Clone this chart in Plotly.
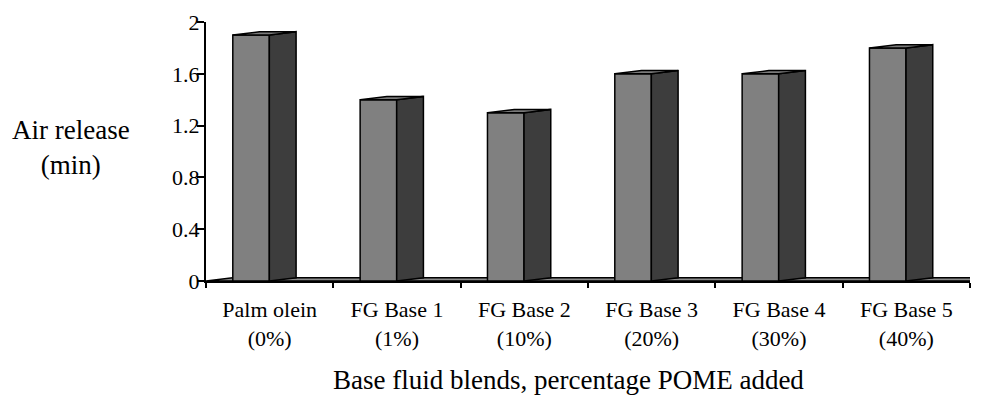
import plotly.graph_objects as go

# ---- data ----
categories = ["Palm olein<br>(0%)", "FG Base 1<br>(1%)", "FG Base 2<br>(10%)",
              "FG Base 3<br>(20%)", "FG Base 4<br>(30%)", "FG Base 5<br>(40%)"]
values = [1.9, 1.4, 1.3, 1.6, 1.6, 1.8]
y_tickvals = [0, 0.4, 0.8, 1.2, 1.6, 2]
y_ticktext = ["0", "0.4", "0.8", "1.2", "1.6", "2"]
x_title = "Base fluid blends, percentage POME added"
y_title = "Air release<br>(min)"

# ---- style / geometry (in axis units) ----
FONT = "Liberation Serif"
FRONT = "#808080"
SIDE = "#3d3d3d"
TOP = "#7a7a7a"
FLOOR = "#8a8a8a"
BAR_OFF = -0.146   # front-face centre relative to category centre
BAR_W = 0.287
DX = 0.21          # oblique depth, x
DY = 0.025         # oblique depth, y
LW = 1.5
Y_RANGE = [0, 2]

n = len(values)
xc = list(range(n))
fronts = [i + BAR_OFF for i in xc]
boundaries = [i - 0.5 for i in range(n + 1)]

fig = go.Figure()

# floor (below traces)
x0f, x1f = boundaries[0], boundaries[-1]
fig.add_shape(type="path", xref="x", yref="y", layer="below",
              path=f"M {x0f},0 L {x1f},0 L {x1f+DX},{DY} L {x0f+DX},{DY} Z",
              fillcolor=FLOOR, line=dict(color="black", width=LW))

# front faces
fig.add_trace(go.Bar(x=fronts, y=values, width=BAR_W,
                     marker=dict(color=FRONT, line=dict(color="black", width=LW)),
                     hoverinfo="skip", showlegend=False))

# side and top faces
for xf, v in zip(fronts, values):
    xl = xf - BAR_W / 2
    xr = xf + BAR_W / 2
    fig.add_trace(go.Scatter(
        x=[xr, xr + DX, xr + DX, xr, xr], y=[0, DY, v + DY, v, 0],
        mode="lines", fill="toself", fillcolor=SIDE,
        line=dict(color="black", width=LW), hoverinfo="skip", showlegend=False))
    fig.add_trace(go.Scatter(
        x=[xl, xr, xr + DX, xl + DX, xl], y=[v, v, v + DY, v + DY, v],
        mode="lines", fill="toself", fillcolor=TOP,
        line=dict(color="black", width=LW), hoverinfo="skip", showlegend=False))

L, R, T, B = 206, 11, 22, 117
W, H = 981, 398
pw = W - L - R
ph = H - T - B

fig.update_layout(
    width=W, height=H,
    margin=dict(l=L, r=R, t=T, b=B, pad=0),
    paper_bgcolor="white", plot_bgcolor="white",
    font=dict(family=FONT, size=22, color="black"),
    showlegend=False,
    xaxis=dict(range=[boundaries[0], boundaries[-1]], tickvals=xc, ticktext=categories,
               ticks="", showline=True, linecolor="black", linewidth=LW,
               showgrid=False, zeroline=False, fixedrange=True,
               tickfont=dict(family=FONT, size=22, color="black"),
               ticklabelstandoff=8,
               minor=dict(tickvals=boundaries, ticks="outside", ticklen=5,
                          tickcolor="black", tickwidth=LW, showgrid=False)),
    # axis line + tick marks
    yaxis=dict(range=Y_RANGE, tickvals=y_tickvals, showticklabels=False,
               ticks="outside", ticklen=7, tickcolor="black", tickwidth=LW,
               showline=True, linecolor="black", linewidth=LW,
               showgrid=False, zeroline=False, fixedrange=True),
    # tick labels, set closer to the axis line
    yaxis2=dict(range=Y_RANGE, overlaying="y", side="left", anchor="x",
                tickvals=y_tickvals, ticktext=y_ticktext,
                ticks="outside", ticklen=1, tickcolor="rgba(0,0,0,0)",
                showline=False, showgrid=False, zeroline=False, fixedrange=True,
                tickfont=dict(family=FONT, size=22, color="black")),
    annotations=[
        dict(text=y_title, xref="paper", yref="paper",
             x=(71 - L) / pw, y=(281.3 - 148) / ph, xanchor="center", yanchor="middle",
             showarrow=False, align="center", font=dict(family=FONT, size=27, color="black")),
        dict(text=x_title, xref="paper", yref="paper",
             x=(568 - L) / pw, y=(281.3 - 380) / ph, xanchor="center", yanchor="middle",
             showarrow=False, font=dict(family=FONT, size=27, color="black")),
    ],
)

# invisible trace so yaxis2 is active
fig.add_trace(go.Scatter(x=[xc[0]], y=[values[0]], yaxis="y2", mode="markers",
                         marker=dict(opacity=0), hoverinfo="skip", showlegend=False))

fig.write_html("out.html")
